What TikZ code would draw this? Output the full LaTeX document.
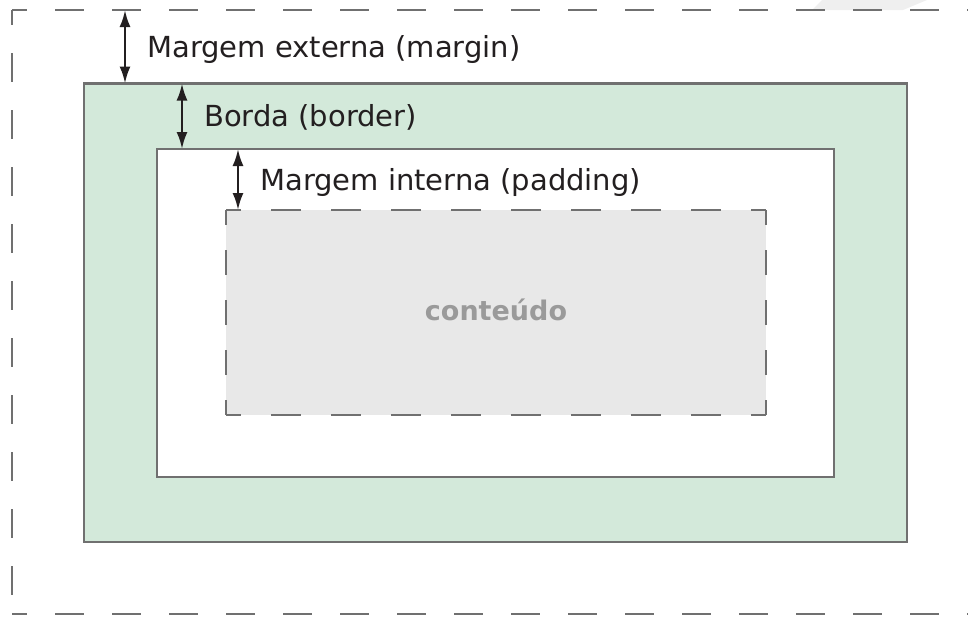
\documentclass[tikz,border=0pt]{standalone}
\usepackage{fontspec}
\setmainfont{DejaVu Sans}
\usetikzlibrary{arrows.meta}
\definecolor{linha}{HTML}{707070}
\definecolor{verde}{HTML}{D3E9DA}
\definecolor{cinza}{HTML}{E8E8E8}
\definecolor{texto}{HTML}{231F20}
\definecolor{rotulo}{HTML}{9A9A9A}
\definecolor{marca}{HTML}{EFEFEF}
\begin{document}
\begin{tikzpicture}[x=1pt, y=-1pt,
    caixa/.style={draw=linha, line width=2.8pt},
    tracoext/.style={draw=linha, line width=2.8pt, dash pattern=on 28.5pt off 28.5pt, dash phase=14pt},
    tracoh/.style={draw=linha, line width=2.8pt, dash pattern=on 30pt off 30pt, dash phase=15pt},
    tracov/.style={draw=linha, line width=2.8pt, dash pattern=on 25pt off 25pt, dash phase=10pt},
    seta/.style={{Latex[length=17pt,width=11pt]}-{Latex[length=17pt,width=11pt]}, line width=2.4pt, draw=texto},
    legenda/.style={anchor=base west, inner sep=0pt, text=texto, font=\fontsize{29}{34}\selectfont}]
    % --- parametros das caixas (em px) ---
    \def\Ey{10}      % topo da margem externa
    \def\Bx{84}   \def\By{83.5}  \def\BX{907} \def\BY{542}  % borda
    \def\Px{157}  \def\Py{149}   \def\PX{834} \def\PY{477}  % padding
    \def\Cx{226}  \def\Cy{210}   \def\CX{766} \def\CY{415}  % conteudo

    \useasboundingbox (0,0) rectangle (968,616);
    \clip (0,0) rectangle (968,616);

    % marca clara no canto
    \fill[marca] (812,10) -- (822,0) -- (927,0) -- (903,10) -- cycle;

    % --- margem externa (tracejada, cortada a direita) ---
    \draw[tracoext] (12,\Ey) -- (968,\Ey);
    \draw[tracoext] (12,\Ey) -- (12,614);
    \draw[tracoext] (12,614) -- (968,614);

    % --- borda (verde) e padding (branco) ---
    \draw[caixa, fill=verde] (\Bx,\By) rectangle (\BX,\BY);
    \draw[caixa, fill=white] (\Px,\Py) rectangle (\PX,\PY);

    % --- conteudo (cinza, tracejado) ---
    \fill[cinza] (\Cx,\Cy) rectangle (\CX,\CY);
    \draw[tracoh] (\Cx,\Cy) -- (\CX,\Cy);
    \draw[tracoh] (\Cx,\CY) -- (\CX,\CY);
    \draw[tracov] (\Cx,\Cy) -- (\Cx,\CY);
    \draw[tracov] (\CX,\Cy) -- (\CX,\CY);
    \node[font=\fontsize{27}{31}\selectfont\bfseries, text=rotulo, anchor=base] (conteudo) at (496,320) {conteúdo};

    % --- setas de medida ---
    \coordinate (ext1) at (125,\Ey);  \coordinate (ext2) at (125,\By);
    \coordinate (bor1) at (182,\By);  \coordinate (bor2) at (182,\Py);
    \coordinate (pad1) at (238,\Py);  \coordinate (pad2) at (238,\Cy);
    \draw[seta] (ext1) -- (ext2);
    \draw[seta] (bor1) -- (bor2);
    \draw[seta] (pad1) -- (pad2);

    % --- legendas ---
    \node[legenda] (lbmargem)  at (147,57)    {Margem externa (margin)};
    \node[legenda] (lbborda)   at (204,126.5) {Borda (border)};
    \node[legenda] (lbpadding) at (260,190)   {Margem interna (padding)};
\end{tikzpicture}
\end{document}
